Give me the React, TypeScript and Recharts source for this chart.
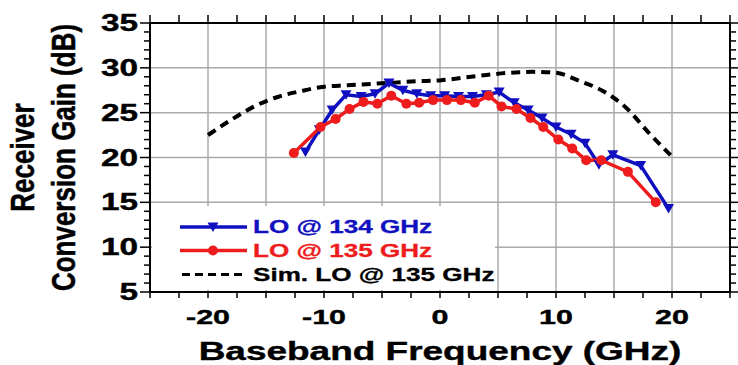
import { LineChart, Line, XAxis, YAxis, CartesianGrid, Label } from "recharts"

// Measured LO @ 134 GHz
const lo134Freq = [-11.6, -10.4, -9.3, -8.1, -6.8, -5.6, -4.4, -3.2, -2.0, -0.8, 0.4, 1.6, 2.8, 4.0, 5.1, 6.4, 7.6, 8.8, 10.0, 11.3, 12.5, 13.7, 14.9, 17.3, 19.7]
const lo134Gain = [20.6, 23.1, 25.3, 27.0, 26.8, 27.1, 28.3, 27.5, 27.1, 26.9, 26.9, 26.8, 26.8, 27.0, 27.3, 26.1, 25.3, 24.4, 23.4, 22.6, 21.6, 19.2, 20.3, 19.1, 14.3]

// Measured LO @ 135 GHz
const lo135Freq = [-12.6, -10.3, -9.0, -7.8, -6.6, -5.4, -4.2, -2.9, -1.8, -0.6, 0.6, 1.8, 3.0, 4.2, 5.3, 6.6, 7.8, 8.9, 10.2, 11.4, 12.6, 13.9, 16.2, 18.6]
const lo135Gain = [20.5, 23.4, 24.3, 25.4, 26.2, 26.0, 26.9, 26.0, 26.1, 26.4, 26.4, 26.4, 26.1, 26.9, 25.7, 25.4, 24.4, 23.4, 22.0, 21.0, 19.7, 19.7, 18.4, 15.0]

// Simulated LO @ 135 GHz
const simFreq = [-20, -18, -16, -14, -12, -10, -8, -6, -4, -2, 0, 2, 4, 6, 8, 10, 12, 14, 16, 18, 20]
const simGain = [22.5, 24.2, 25.7, 26.75, 27.4, 27.9, 28.05, 28.2, 28.35, 28.5, 28.6, 28.9, 29.2, 29.45, 29.55, 29.45, 28.55, 27.45, 25.6, 22.75, 20.1]

const xTicks = [-25, -22.5, -20, -17.5, -15, -12.5, -10, -7.5, -5, -2.5, 0, 2.5, 5, 7.5, 10, 12.5, 15, 17.5, 20, 22.5, 25]
const xGrid = [-20, -15, -10, -5, 0, 5, 10, 15, 20]
const yTicks = Array.from({ length: 31 }, (_, i) => 5 + i)
const yGrid = [10, 15, 20, 25, 30]

const legendItems = [
  { label: "LO @ 134 GHz", color: "#1010c0", kind: "tri" },
  { label: "LO @ 135 GHz", color: "#ee1c1c", kind: "dot" },
  { label: "Sim. LO @ 135 GHz", color: "#000", kind: "dash" },
]

const toPoints = (xs: number[], ys: number[]) => xs.map((f, i) => ({ f, g: ys[i] }))
const lo134 = toPoints(lo134Freq, lo134Gain)
const lo135 = toPoints(lo135Freq, lo135Gain)
const sim = toPoints(simFreq, simGain)

const FONT = "'Liberation Sans', Arial, sans-serif"
const SX = 1.45

function BottomTick({ x, y, payload }: any) {
  const v = payload.value
  const label = v % 10 === 0 && Math.abs(v) < 25
  return (
    <g>
      <line x1={x} x2={x} y1={y} y2={y + 6} stroke="#000" strokeWidth={1.5} />
      {label && (
        <text transform={`translate(${x},${y + 25}) scale(${SX},1)`} textAnchor="middle" dominantBaseline="central"
          fontFamily={FONT} fontWeight="bold" fontSize={21} fill="#000" stroke="#000" strokeWidth={0.4}>{v}</text>
      )}
    </g>
  )
}

function TopTick({ x, y }: any) {
  return <line x1={x} x2={x} y1={y} y2={y - 8} stroke="#000" strokeWidth={1.5} />
}

function LeftTick({ x, y, payload }: any) {
  const v = payload.value
  const major = v % 5 === 0
  return (
    <g>
      <line x1={x} x2={x - (major ? 10 : 6)} y1={y} y2={y} stroke="#000" strokeWidth={1.5} />
      {major && (
        <text transform={`translate(${x - 12},${y}) scale(${SX},1)`} textAnchor="end" dominantBaseline="central"
          fontFamily={FONT} fontWeight="bold" fontSize={23} fill="#000" stroke="#000" strokeWidth={0.4}>{v}</text>
      )}
    </g>
  )
}

function RightTick({ x, y, payload }: any) {
  const major = payload.value % 5 === 0
  return <line x1={x} x2={x + (major ? 8 : 6)} y1={y} y2={y} stroke="#000" strokeWidth={1.5} />
}

function TriDot({ cx, cy, fill }: any) {
  if (cx == null || cy == null) return null
  return <path d={`M${cx - 5.5},${cy - 4.5} L${cx + 5.5},${cy - 4.5} L${cx},${cy + 5} Z`} fill={fill} />
}

function YTitle({ viewBox }: any) {
  const cy = viewBox.y + viewBox.height / 2
  const common = {
    textAnchor: "middle" as const, dominantBaseline: "central" as const, fontFamily: FONT,
    fontWeight: "bold", fontSize: 26, fill: "#000", stroke: "#000", strokeWidth: 0.4,
  }
  return (
    <g>
      <text transform={`translate(22,${cy}) scale(1.3,1) rotate(-90)`} {...common}>Receiver</text>
      <text transform={`translate(63,${cy}) scale(1.3,1) rotate(-90)`} {...common}>Conversion Gain (dB)</text>
    </g>
  )
}

function XTitle({ viewBox }: any) {
  const cx = viewBox.x + viewBox.width / 2
  return (
    <text transform={`translate(${cx},${viewBox.y + 59}) scale(${SX},1)`} textAnchor="middle" dominantBaseline="central"
      fontFamily={FONT} fontWeight="bold" fontSize={25.5} fill="#000" stroke="#000" strokeWidth={0.4}>Baseband Frequency (GHz)</text>
  )
}

function LegendBox() {
  const rows = [227, 250.5, 274.5]
  return (
    <div style={{ position: "absolute", left: 152, top: 206, width: 343, height: 84, background: "#fff" }}>
      <svg width={343} height={84} style={{ display: "block" }}>
        {legendItems.map((it, i) => {
          const y = rows[i] - 206
          return (
            <g key={it.label}>
              {it.kind === "dash" ? (
                <line x1={30} x2={95} y1={y} y2={y} stroke="#000" strokeWidth={3} strokeDasharray="8 5" />
              ) : (
                <line x1={28} x2={95} y1={y} y2={y} stroke={it.color} strokeWidth={3.5} />
              )}
              {it.kind === "tri" && <TriDot cx={61} cy={y} fill={it.color} />}
              {it.kind === "dot" && <circle cx={61} cy={y} r={5} fill={it.color} />}
              <text transform={`translate(101,${y}) scale(${SX},1)`} dominantBaseline="central"
                fontFamily={FONT} fontWeight="bold" fontSize={18} fill={it.color} stroke={it.color} strokeWidth={0.3}>{it.label}</text>
            </g>
          )
        })}
      </svg>
    </div>
  )
}

export default function App() {
  return (
    <div style={{ position: "absolute", left: 0, top: 0, width: 738, height: 365, background: "#fff" }}>
      <LineChart width={738} height={365} margin={{ top: 13, right: 0, bottom: 0, left: 0 }}>
        <CartesianGrid xAxisId="b" yAxisId="l" verticalValues={xGrid} horizontalValues={yGrid} stroke="#aaa" strokeWidth={1.5} />
        <XAxis xAxisId="b" orientation="bottom" type="number" dataKey="f" domain={[-25, 25]} ticks={xTicks} interval={0}
          tickLine={false} tickSize={0} tickMargin={0} height={73} tick={<BottomTick />}
          axisLine={{ stroke: "#000", strokeWidth: 2 }} allowDataOverflow>
          <Label content={<XTitle />} />
        </XAxis>
        <XAxis xAxisId="t" orientation="top" type="number" dataKey="f" domain={[-25, 25]} ticks={xTicks} interval={0}
          tickLine={false} tickSize={0} tickMargin={0} height={10} tick={<TopTick />}
          axisLine={{ stroke: "#000", strokeWidth: 2 }} allowDataOverflow />
        <YAxis yAxisId="l" orientation="left" type="number" domain={[5, 35]} ticks={yTicks} interval={0}
          tickLine={false} tickSize={0} tickMargin={0} width={150} tick={<LeftTick />}
          axisLine={{ stroke: "#000", strokeWidth: 2 }} allowDataOverflow>
          <Label content={<YTitle />} />
        </YAxis>
        <YAxis yAxisId="r" orientation="right" type="number" domain={[5, 35]} ticks={yTicks} interval={0}
          tickLine={false} tickSize={0} tickMargin={0} width={8} tick={<RightTick />}
          axisLine={{ stroke: "#000", strokeWidth: 2 }} allowDataOverflow />
        <Line xAxisId="b" yAxisId="l" data={sim} dataKey="g" type="monotone" stroke="#000" strokeWidth={4}
          strokeDasharray="9 6" dot={false} isAnimationActive={false} />
        <Line xAxisId="b" yAxisId="l" data={lo134} dataKey="g" type="linear" stroke="#1010c0" strokeWidth={3.5}
          dot={<TriDot fill="#1010c0" />} activeDot={false} isAnimationActive={false} />
        <Line xAxisId="b" yAxisId="l" data={lo135} dataKey="g" type="linear" stroke="#ee1c1c" strokeWidth={3.5}
          dot={{ r: 5, fill: "#ee1c1c", stroke: "none" }} activeDot={false} isAnimationActive={false} />
      </LineChart>
      <LegendBox />
    </div>
  )
}
